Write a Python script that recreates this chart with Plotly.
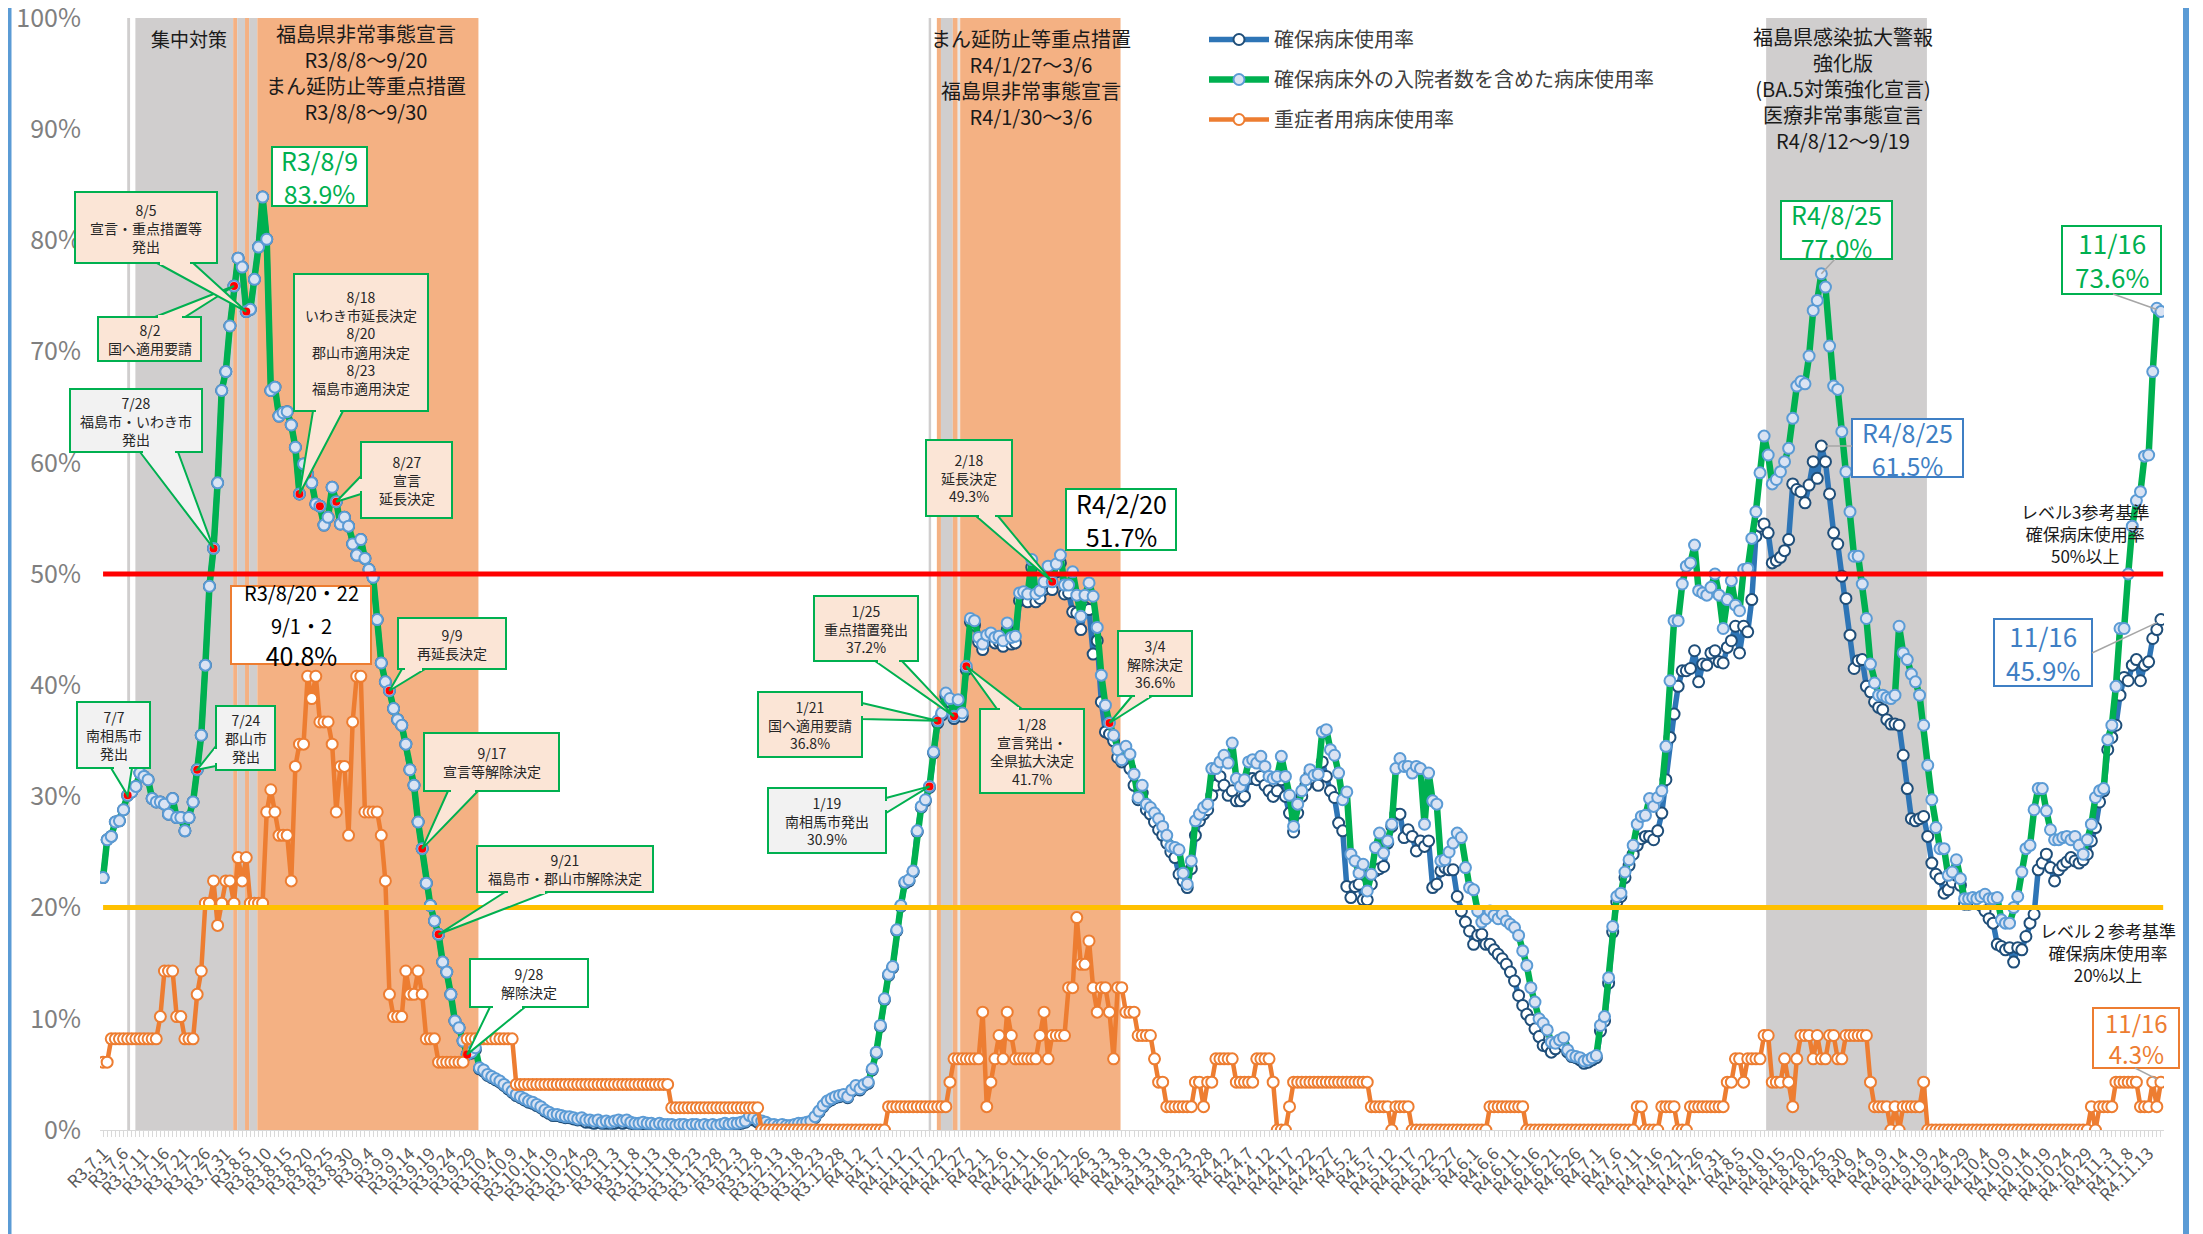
import plotly.graph_objects as go
import pandas as pd

# ---------------- data ----------------
START_DATE = "2021-07-01"

# 確保病床使用率 (%)
secured_bed_rate = [
    22.7, 26.1, 26.4, 27.7, 27.8, 28.8, 30.1, 30.4, 30.9, 32.1,
    31.8, 31.5, 29.8, 29.5, 29.5, 29.3, 28.4, 29.8, 28.1, 28.1,
    26.9, 28.1, 29.5, 32.4, 35.5, 41.8, 48.9, 52.3, 58.2, 66.5,
    68.2, 72.3, 75.9, 78.4, 77.6, 73.6, 73.8, 76.5, 79.4, 83.9,
    80.1, 66.5, 66.8, 64.2, 64.5, 64.6, 63.4, 61.4, 57.2, 59.9,
    59.0, 58.2, 56.3, 56.1, 54.4, 55.1, 57.8, 56.5, 54.5, 55.1,
    54.3, 52.7, 51.7, 53.1, 51.4, 50.4, 49.7, 45.9, 42.0, 40.3,
    39.5, 37.9, 36.9, 36.4, 34.7, 32.4, 31.0, 27.7, 25.3, 22.2,
    20.2, 18.8, 17.6, 15.1, 14.2, 12.2, 9.8, 9.2, 8.0, 6.8,
    6.9, 7.2, 5.5, 5.3, 4.9, 4.7, 4.5, 4.3, 4.0, 3.7,
    3.4, 3.1, 2.9, 2.7, 2.5, 2.4, 2.2, 2.0, 1.7, 1.5,
    1.3, 1.3, 1.2, 1.1, 1.1, 1.0, 0.9, 0.9, 0.7, 0.7,
    0.6, 0.7, 0.6, 0.6, 0.6, 0.6, 0.7, 0.6, 0.7, 0.6,
    0.5, 0.5, 0.5, 0.5, 0.5, 0.4, 0.4, 0.4, 0.4, 0.4,
    0.3, 0.4, 0.4, 0.3, 0.4, 0.4, 0.3, 0.4, 0.3, 0.4,
    0.3, 0.4, 0.4, 0.4, 0.5, 0.5, 0.6, 0.7, 1.0, 0.9,
    0.7, 0.6, 0.5, 0.4, 0.3, 0.3, 0.3, 0.3, 0.3, 0.4,
    0.4, 0.5, 0.6, 0.7, 1.1, 1.6, 2.1, 2.5, 2.7, 2.9,
    3.0, 3.1, 2.9, 3.5, 3.9, 3.6, 4.0, 4.2, 5.4, 6.9,
    9.3, 11.7, 13.9, 14.6, 17.9, 20.1, 22.2, 22.4, 23.2, 26.8,
    29.0, 29.6, 30.8, 33.9, 36.6, 37.3, 39.0, 38.5, 37.0, 38.3,
    37.2, 41.4, 45.7, 45.4, 43.9, 43.2, 44.0, 44.2, 43.8, 43.9,
    43.5, 45.0, 43.7, 43.8, 47.6, 47.7, 47.5, 50.6, 47.5, 47.8,
    48.6, 50.0, 48.6, 50.2, 51.0, 48.2, 48.3, 46.6, 46.5, 45.0,
    47.0, 46.8, 42.8, 44.0, 38.5, 35.8, 35.6, 35.0, 33.5, 33.1,
    33.5, 32.5, 31.0, 29.7, 30.3, 28.8, 28.4, 27.7, 27.0, 26.5,
    25.8, 25.0, 24.5, 23.0, 22.4, 21.8, 23.5, 26.5, 27.8, 28.4,
    28.8, 30.1, 31.0, 31.8, 31.0, 30.1, 30.5, 29.6, 29.6, 30.0,
    31.6, 31.6, 31.5, 31.8, 31.0, 30.5, 30.0, 30.5, 31.5, 30.0,
    28.5, 26.8, 28.5, 30.0, 31.0, 32.0, 31.6, 31.0, 33.1, 31.8,
    30.5, 29.9, 27.6, 26.9, 21.9, 20.9, 21.9, 22.1, 20.7, 20.7,
    22.1, 23.3, 23.5, 23.7, 25.8, 27.3, 28.4, 28.4, 26.3, 27.0,
    26.4, 25.1, 26.0, 25.5, 26.0, 21.8, 22.1, 23.3, 23.6, 23.4,
    23.4, 21.0, 19.7, 18.7, 17.9, 16.7, 17.5, 17.6, 16.7, 16.7,
    16.2, 15.8, 15.4, 14.9, 14.2, 13.4, 12.1, 11.2, 10.4, 9.9,
    9.1, 8.4, 7.6, 7.5, 7.0, 7.3, 7.9, 7.6, 7.0, 6.6,
    6.5, 6.3, 6.0, 6.1, 6.3, 6.5, 8.9, 9.8, 13.2, 17.8,
    20.5, 21.0, 22.7, 23.8, 24.8, 25.6, 26.2, 26.4, 26.4, 26.1,
    26.9, 28.5, 31.5, 35.3, 37.4, 39.9, 41.3, 41.3, 41.5, 43.1,
    40.3, 41.9, 41.8, 42.9, 43.1, 42.1, 42.0, 43.4, 44.0, 45.3,
    42.9, 45.3, 44.8, 47.7, 53.4, 54.3, 54.5, 53.7, 51.0, 51.2,
    51.5, 52.1, 53.1, 58.1, 57.6, 57.4, 56.4, 58.0, 60.1, 58.6,
    61.5, 60.1, 57.2, 53.7, 52.7, 49.8, 47.8, 44.5, 41.5, 42.2,
    42.3, 39.9, 39.4, 38.5, 38.0, 37.8, 36.9, 36.5, 36.5, 36.4,
    33.7, 30.7, 28.0, 27.8, 28.0, 28.2, 26.4, 24.0, 23.0, 22.6,
    21.3, 21.6, 22.3, 22.9, 22.0, 20.3, 20.3, 20.5, 20.5, 20.2,
    19.7, 19.0, 18.6, 16.7, 16.5, 16.2, 16.4, 15.1, 16.4, 16.2,
    17.4, 18.6, 19.4, 23.4, 24.0, 24.8, 23.6, 22.4, 23.4, 23.8,
    24.1, 24.5, 24.2, 24.0, 24.3, 24.8, 26.0, 27.2, 29.5, 30.5,
    34.2, 35.3, 36.4, 39.1, 40.7, 40.4, 41.8, 42.3, 40.4, 41.8,
    42.1, 44.2, 45.0, 45.9,
]

# 確保病床外の入院者数を含めた病床使用率 (%)
incl_other_rate = [
    22.7, 26.1, 26.4, 27.7, 27.8, 28.8, 30.1, 30.4, 30.9, 32.1,
    31.8, 31.5, 29.8, 29.5, 29.5, 29.3, 28.4, 29.8, 28.1, 28.1,
    26.9, 28.1, 29.5, 32.4, 35.5, 41.8, 48.9, 52.3, 58.2, 66.5,
    68.2, 72.3, 75.9, 78.4, 77.6, 73.6, 73.8, 76.5, 79.4, 83.9,
    80.1, 66.5, 66.8, 64.2, 64.5, 64.6, 63.4, 61.4, 57.2, 59.9,
    59.0, 58.2, 56.3, 56.1, 54.4, 55.1, 57.8, 56.5, 54.5, 55.1,
    54.3, 52.7, 51.7, 53.1, 51.4, 50.4, 49.7, 45.9, 42.0, 40.3,
    39.5, 37.9, 36.9, 36.4, 34.7, 32.4, 31.0, 27.7, 25.3, 22.2,
    20.2, 18.8, 17.6, 15.1, 14.2, 12.2, 9.8, 9.2, 8.0, 6.8,
    7.0, 7.4, 5.6, 5.4, 5.0, 4.8, 4.6, 4.4, 4.1, 3.8,
    3.5, 3.2, 3.0, 2.8, 2.6, 2.5, 2.3, 2.1, 1.8, 1.6,
    1.4, 1.4, 1.3, 1.2, 1.2, 1.1, 1.0, 1.1, 0.9, 0.9,
    0.8, 0.9, 0.7, 0.8, 0.7, 0.8, 0.9, 0.8, 0.9, 0.7,
    0.6, 0.6, 0.7, 0.6, 0.6, 0.5, 0.6, 0.5, 0.5, 0.5,
    0.4, 0.5, 0.5, 0.4, 0.5, 0.5, 0.4, 0.5, 0.4, 0.5,
    0.4, 0.5, 0.6, 0.5, 0.6, 0.6, 0.7, 0.8, 1.3, 1.1,
    0.9, 0.8, 0.7, 0.5, 0.5, 0.4, 0.5, 0.4, 0.4, 0.5,
    0.6, 0.6, 0.7, 0.8, 1.2, 1.7, 2.2, 2.6, 2.8, 3.0,
    3.1, 3.2, 3.0, 3.6, 4.0, 3.7, 4.1, 4.3, 5.5, 7.0,
    9.4, 11.8, 14.0, 14.7, 18.0, 20.2, 22.3, 22.5, 23.3, 26.9,
    29.1, 29.7, 30.9, 34.0, 36.8, 37.5, 39.3, 38.8, 37.2, 38.7,
    37.5, 41.7, 46.0, 45.8, 44.3, 43.7, 44.5, 44.7, 44.3, 44.4,
    44.0, 45.6, 44.3, 44.4, 48.3, 48.4, 48.2, 51.3, 48.2, 48.5,
    49.3, 50.7, 49.3, 50.9, 51.7, 49.0, 49.0, 50.2, 48.1, 46.2,
    48.1, 49.2, 48.0, 45.2, 40.9, 38.2, 36.6, 35.5, 34.2, 33.3,
    34.5, 33.8, 32.0, 29.9, 31.0, 29.3, 29.0, 28.5, 28.0, 27.3,
    26.5, 25.5, 25.4, 25.2, 23.1, 22.1, 24.2, 27.8, 28.4, 29.0,
    29.3, 32.5, 32.5, 33.1, 33.7, 33.0, 34.8, 31.6, 30.9, 31.5,
    33.1, 33.3, 33.0, 33.6, 32.7, 31.8, 31.6, 31.8, 33.6, 31.8,
    30.1, 27.3, 29.3, 30.5, 31.5, 32.4, 31.9, 32.0, 35.8, 36.0,
    34.2, 33.7, 32.1, 29.7, 30.4, 24.8, 24.2, 23.1, 23.9, 21.5,
    23.0, 25.4, 26.7, 24.9, 26.0, 27.5, 32.5, 33.4, 32.7, 32.7,
    32.1, 32.7, 32.5, 27.5, 32.1, 29.6, 29.3, 24.2, 24.3, 25.0,
    25.8, 26.7, 26.3, 23.6, 21.8, 21.6, 19.7, 18.7, 19.0, 19.7,
    19.3, 19.0, 19.4, 18.8, 18.5, 18.2, 17.5, 16.1, 14.8, 12.8,
    11.5, 10.0, 9.6, 9.0, 7.9, 7.8, 8.1, 8.3, 7.2, 6.7,
    6.6, 6.5, 6.2, 6.3, 6.5, 6.7, 9.4, 10.2, 13.7, 18.3,
    21.0, 21.3, 23.2, 24.3, 25.6, 27.5, 28.2, 28.3, 29.8, 29.1,
    29.9, 30.5, 34.5, 40.4, 45.8, 45.8, 49.1, 50.7, 51.0, 52.6,
    48.5, 48.3, 48.1, 48.8, 50.0, 48.1, 45.1, 47.7, 49.4, 47.2,
    46.7, 50.4, 50.5, 53.2, 55.6, 59.1, 62.4, 60.7, 58.1, 58.5,
    59.2, 60.1, 61.3, 64.0, 66.9, 67.3, 67.1, 69.6, 73.7, 74.6,
    77.0, 75.8, 70.5, 66.9, 66.6, 62.8, 59.2, 55.6, 51.6, 51.6,
    49.1, 46.0, 41.9, 40.2, 39.1, 39.1, 38.9, 38.8, 39.1, 45.3,
    42.9, 42.3, 41.0, 40.3, 39.1, 36.4, 32.8, 29.7, 27.2, 25.3,
    25.3, 22.9, 23.2, 24.3, 22.6, 20.8, 20.8, 20.9, 20.8, 21.0,
    21.2, 20.8, 20.8, 20.9, 18.9, 18.6, 18.6, 20.0, 21.0, 23.2,
    25.3, 25.6, 28.8, 30.7, 30.7, 28.7, 27.0, 26.1, 26.1, 26.3,
    26.4, 26.1, 26.4, 25.6, 24.8, 26.1, 27.5, 29.9, 30.5, 30.7,
    35.1, 36.4, 39.9, 45.1, 45.1, 50.0, 54.3, 56.6, 57.4, 60.6,
    60.7, 68.2, 73.9, 73.6,
]

# 重症者用病床使用率 (%)
severe_bed_rate = [
    6.1, 6.1, 8.2, 8.2, 8.2, 8.2, 8.2, 8.2, 8.2, 8.2,
    8.2, 8.2, 8.2, 8.2, 10.2, 14.3, 14.3, 14.3, 10.2, 10.2,
    8.2, 8.2, 8.2, 12.2, 14.3, 20.4, 20.4, 22.4, 18.4, 20.4,
    22.4, 22.4, 20.4, 24.5, 22.4, 24.5, 20.4, 20.4, 20.4, 20.4,
    28.6, 30.6, 28.6, 26.5, 26.5, 26.5, 22.4, 32.7, 34.7, 34.7,
    40.8, 38.8, 40.8, 36.7, 36.7, 36.7, 34.7, 28.6, 32.7, 32.7,
    26.5, 36.7, 40.8, 40.8, 28.6, 28.6, 28.6, 28.6, 26.5, 22.4,
    12.2, 10.2, 10.2, 10.2, 14.3, 12.2, 12.2, 14.3, 12.2, 8.2,
    8.2, 8.2, 6.1, 6.1, 6.1, 6.1, 6.1, 6.1, 6.1, 8.2,
    8.2, 8.2, 8.2, 8.2, 8.2, 8.2, 8.2, 8.2, 8.2, 8.2,
    8.2, 4.1, 4.1, 4.1, 4.1, 4.1, 4.1, 4.1, 4.1, 4.1,
    4.1, 4.1, 4.1, 4.1, 4.1, 4.1, 4.1, 4.1, 4.1, 4.1,
    4.1, 4.1, 4.1, 4.1, 4.1, 4.1, 4.1, 4.1, 4.1, 4.1,
    4.1, 4.1, 4.1, 4.1, 4.1, 4.1, 4.1, 4.1, 4.1, 2.0,
    2.0, 2.0, 2.0, 2.0, 2.0, 2.0, 2.0, 2.0, 2.0, 2.0,
    2.0, 2.0, 2.0, 2.0, 2.0, 2.0, 2.0, 2.0, 2.0, 2.0,
    2.0, 0.0, 0.0, 0.0, 0.0, 0.0, 0.0, 0.0, 0.0, 0.0,
    0.0, 0.0, 0.0, 0.0, 0.0, 0.0, 0.0, 0.0, 0.0, 0.0,
    0.0, 0.0, 0.0, 0.0, 0.0, 0.0, 0.0, 0.0, 0.0, 0.0,
    0.0, 0.0, 2.1, 2.1, 2.1, 2.1, 2.1, 2.1, 2.1, 2.1,
    2.1, 2.1, 2.1, 2.1, 2.1, 2.1, 2.1, 4.3, 6.4, 6.4,
    6.4, 6.4, 6.4, 6.4, 6.4, 10.6, 2.1, 4.3, 6.4, 8.5,
    6.4, 10.6, 8.5, 6.4, 6.4, 6.4, 6.4, 6.4, 6.4, 8.5,
    10.6, 6.4, 8.5, 8.5, 8.5, 8.5, 12.8, 12.8, 19.1, 14.9,
    14.9, 17.0, 12.8, 10.6, 12.8, 12.8, 10.6, 6.4, 12.8, 12.8,
    10.6, 10.6, 10.6, 8.5, 8.5, 8.5, 8.5, 6.4, 4.3, 4.3,
    2.1, 2.1, 2.1, 2.1, 2.1, 2.1, 2.1, 4.3, 4.3, 2.1,
    4.3, 4.3, 6.4, 6.4, 6.4, 6.4, 6.4, 4.3, 4.3, 4.3,
    4.3, 4.3, 6.4, 6.4, 6.4, 6.4, 4.3, 0.0, 0.0, 0.0,
    2.1, 4.3, 4.3, 4.3, 4.3, 4.3, 4.3, 4.3, 4.3, 4.3,
    4.3, 4.3, 4.3, 4.3, 4.3, 4.3, 4.3, 4.3, 4.3, 4.3,
    2.1, 2.1, 2.1, 2.1, 2.1, 0.0, 2.1, 2.1, 2.1, 2.1,
    0.0, 0.0, 0.0, 0.0, 0.0, 0.0, 0.0, 0.0, 0.0, 0.0,
    0.0, 0.0, 0.0, 0.0, 0.0, 0.0, 0.0, 0.0, 0.0, 2.1,
    2.1, 2.1, 2.1, 2.1, 2.1, 2.1, 2.1, 2.1, 0.0, 0.0,
    0.0, 0.0, 0.0, 0.0, 0.0, 0.0, 0.0, 0.0, 0.0, 0.0,
    0.0, 0.0, 0.0, 0.0, 0.0, 0.0, 0.0, 0.0, 0.0, 0.0,
    0.0, 0.0, 0.0, 0.0, 0.0, 2.1, 2.1, 0.0, 0.0, 0.0,
    0.0, 2.1, 2.1, 2.1, 2.1, 0.0, 0.0, 0.0, 2.1, 2.1,
    2.1, 2.1, 2.1, 2.1, 2.1, 2.1, 2.1, 4.3, 4.3, 6.4,
    6.4, 4.3, 6.4, 6.4, 6.4, 6.4, 8.5, 8.5, 4.3, 4.3,
    4.3, 6.4, 4.3, 2.1, 6.4, 8.5, 8.5, 8.5, 6.4, 8.5,
    6.4, 6.4, 8.5, 8.5, 6.4, 6.4, 8.5, 8.5, 8.5, 8.5,
    8.5, 8.5, 4.3, 2.1, 2.1, 2.1, 2.1, 0.0, 2.1, 0.0,
    2.1, 2.1, 2.1, 2.1, 2.1, 4.3, 0.0, 0.0, 0.0, 0.0,
    0.0, 0.0, 0.0, 0.0, 0.0, 0.0, 0.0, 0.0, 0.0, 0.0,
    0.0, 0.0, 0.0, 0.0, 0.0, 0.0, 0.0, 0.0, 0.0, 0.0,
    0.0, 0.0, 0.0, 0.0, 0.0, 0.0, 0.0, 0.0, 0.0, 0.0,
    0.0, 0.0, 0.0, 0.0, 0.0, 0.0, 2.1, 0.0, 2.1, 2.1,
    2.1, 2.1, 4.3, 4.3, 4.3, 4.3, 4.3, 4.3, 2.1, 2.1,
    2.1, 4.3, 2.1, 4.3,
]

# dates of policy events (red dots on the green series)
event_dates = [
    "2021-07-07", "2021-07-24", "2021-07-28", "2021-08-02", "2021-08-05",
    "2021-08-18", "2021-08-20", "2021-08-23", "2021-08-27", "2021-09-09",
    "2021-09-17", "2021-09-21", "2021-09-28", "2022-01-19", "2022-01-21",
    "2022-01-25", "2022-01-28", "2022-02-18", "2022-03-04",
]

y_tick_values = [0, 10, 20, 30, 40, 50, 60, 70, 80, 90, 100]
level3_line = 50
level2_line = 20

assert len(secured_bed_rate) == len(incl_other_rate) == len(severe_bed_rate)

dates = pd.date_range(START_DATE, periods=len(incl_other_rate), freq="D")
days = list(range(len(dates)))
tick_days = days[::5]
tick_labels = [f"R{d.year - 2018}.{d.month}.{d.day}" for d in dates[::5]]


def day_of(s):
    return int((pd.Timestamp(s) - dates[0]).days)


# ---------------- geometry (page pixel coordinates) ----------------
W, H = 2203, 1234
PAGE_OFF = 8                      # default body margin of the html page
PL, PT, PR, PB = 100, 18, 2164, 1130   # plot area in page pixels
PW, PH = PR - PL, PB - PT
FIG_W, FIG_H = W - PAGE_OFF, H - PAGE_OFF
XMIN, XMAX = -0.75, days[-1] + 0.75


def px_x(day):
    return PL + (day - XMIN) / (XMAX - XMIN) * PW


def px_y(v):
    return PT + (1 - v / 100.0) * PH


def pap_x(px):
    return (px - PL) / PW


def pap_y(py):
    return (PB - py) / PH


FONT = "Noto Sans CJK JP, Noto Sans, sans-serif"
GREEN = "#00B050"
BLUE = "#2E75B6"
ORANGE = "#ED7D31"
PEACH = "#FBE5D6"
GRAYF = "#F2F2F2"
WHITE = "#FFFFFF"
BG_GRAY = "#D0CECE"
BG_ORANGE = "#F4B183"
LABEL_BLUE = "#3F7FC4"

fig = go.Figure()

# ---------------- traces ----------------
fig.add_trace(go.Scatter(
    x=days, y=secured_bed_rate, mode="lines+markers", name="確保病床使用率",
    legendgroup="a",
    line=dict(color=BLUE, width=5.5),
    marker=dict(size=11, color=WHITE, line=dict(color="#1F4E79", width=2)),
))
fig.add_trace(go.Scatter(
    x=days, y=incl_other_rate, mode="lines+markers",
    name="確保病床外の入院者数を含めた病床使用率", legendgroup="b",
    line=dict(color=GREEN, width=6.5),
    marker=dict(size=11, color="#DAE3F3", line=dict(color="#5B9BD5", width=2)),
))
fig.add_trace(go.Scatter(
    x=days, y=severe_bed_rate, mode="lines+markers", name="重症者用病床使用率",
    legendgroup="c",
    line=dict(color=ORANGE, width=4.5),
    marker=dict(size=11, color=WHITE, line=dict(color=ORANGE, width=2)),
))
ev_days = [day_of(s) for s in event_dates]
fig.add_trace(go.Scatter(
    x=ev_days, y=[incl_other_rate[d] for d in ev_days], mode="markers",
    showlegend=False, marker=dict(size=8, color="#FF0000"),
))

shapes = []
annotations = []

# ---------------- background periods ----------------
bg_spans = [
    (5.9, 6.6, BG_GRAY), (7.9, 31.8, BG_GRAY), (31.8, 32.8, BG_ORANGE),
    (32.8, 34.7, BG_GRAY), (34.7, 35.7, BG_ORANGE), (35.7, 37.7, BG_GRAY),
    (37.7, 91.75, BG_ORANGE),
    (201.8, 202.4, BG_GRAY), (203.8, 204.8, BG_ORANGE), (204.8, 207.7, BG_GRAY),
    (207.7, 208.9, BG_ORANGE), (208.9, 209.5, "#E7E6E6"), (209.5, 248.7, BG_ORANGE),
    (406.5, 445.8, BG_GRAY),
]
for x0, x1, c in bg_spans:
    shapes.append(dict(type="rect", xref="x", yref="paper", x0=x0, x1=x1, y0=0, y1=1,
                       fillcolor=c, line=dict(width=0), layer="below"))

# reference lines
shapes.append(dict(type="line", xref="x", yref="y", x0=0, x1=XMAX - 0.2,
                   y0=level3_line, y1=level3_line, line=dict(color="#FF0000", width=5),
                   layer="above"))
shapes.append(dict(type="line", xref="x", yref="y", x0=0, x1=XMAX - 0.2,
                   y0=level2_line, y1=level2_line, line=dict(color="#FFC000", width=5),
                   layer="above"))

# outer frame (left/right blue bars)
for bx in (8.5, 2186):
    shapes.append(dict(type="line", xref="paper", yref="paper",
                       x0=pap_x(bx), x1=pap_x(bx), y0=pap_y(H), y1=pap_y(PAGE_OFF),
                       line=dict(color="#5B9BD5", width=6), layer="above"))

# ---------------- callouts ----------------
callouts = [
    ("7/7<br>南相馬市<br>発出", (77, 702, 150, 768), GRAYF, ((111, 768), (132, 768)), "2021-07-07"),
    ("7/24<br>郡山市<br>発出", (216, 706, 275, 770), GRAYF, ((216, 746), (216, 766)), "2021-07-24"),
    ("7/28<br>福島市・いわき市<br>発出", (70, 389, 202, 452), GRAYF, ((140, 452), (178, 452)), "2021-07-28"),
    ("8/2<br>国へ適用要請", (98, 317, 201, 361), PEACH, ((155, 317), (185, 317)), "2021-08-02"),
    ("8/5<br>宣言・重点措置等<br>発出", (75, 192, 217, 263), PEACH, ((157, 263), (193, 263)), "2021-08-05"),
    ("8/18<br>いわき市延長決定<br>8/20<br>郡山市適用決定<br>8/23<br>福島市適用決定",
     (294, 274, 428, 411), PEACH, ((313, 411), (343, 411)), "2021-08-18"),
    ("8/27<br>宣言<br>延長決定", (361, 442, 452, 518), PEACH, ((361, 476), (361, 494)), "2021-08-27"),
    ("9/9<br>再延長決定", (398, 618, 506, 669), PEACH, ((402, 669), (425, 669)), "2021-09-09"),
    ("9/17<br>宣言等解除決定", (424, 733, 559, 791), PEACH, ((448, 791), (478, 791)), "2021-09-17"),
    ("9/21<br>福島市・郡山市解除決定", (477, 846, 653, 892), PEACH, ((505, 892), (548, 892)), "2021-09-21"),
    ("9/28<br>解除決定", (470, 959, 588, 1007), WHITE, ((490, 1007), (525, 1007)), "2021-09-28"),
    ("1/19<br>南相馬市発出<br>30.9%", (768, 788, 886, 853), GRAYF, ((886, 798), (886, 813)), "2022-01-19"),
    ("1/21<br>国へ適用要請<br>36.8%", (758, 692, 862, 757), PEACH, ((862, 703), (862, 719)), "2022-01-21"),
    ("1/25<br>重点措置発出<br>37.2%", (814, 596, 918, 661), PEACH, ((875, 661), (902, 661)), "2022-01-25"),
    ("1/28<br>宣言発出・<br>全県拡大決定<br>41.7%", (980, 709, 1084, 793), PEACH, ((997, 709), (1022, 709)), "2022-01-28"),
    ("2/18<br>延長決定<br>49.3%", (926, 440, 1012, 516), PEACH, ((976, 516), (998, 516)), "2022-02-18"),
    ("3/4<br>解除決定<br>36.6%", (1118, 631, 1192, 696), PEACH, ((1132, 696), (1152, 696)), "2022-03-04"),
]

for text, (bx0, by0, bx1, by1), fill, (b1, b2), dstr in callouts:
    d = day_of(dstr)
    tip = (px_x(d), px_y(incl_other_rate[d]))
    shapes.append(dict(type="rect", xref="paper", yref="paper",
                       x0=pap_x(bx0), x1=pap_x(bx1), y0=pap_y(by1), y1=pap_y(by0),
                       fillcolor=fill, line=dict(color=GREEN, width=2), layer="above"))
    path = (f"M {pap_x(b1[0])},{pap_y(b1[1])} L {pap_x(tip[0])},{pap_y(tip[1])} "
            f"L {pap_x(b2[0])},{pap_y(b2[1])} Z")
    shapes.append(dict(type="path", xref="paper", yref="paper", path=path,
                       fillcolor=fill, line=dict(color=GREEN, width=2), layer="above"))
    # hide the box border under the wedge base
    if b1[1] == b2[1]:
        p1, p2 = (b1[0] + 3, b1[1]), (b2[0] - 3, b2[1])
    else:
        p1, p2 = (b1[0], b1[1] + 3), (b2[0], b2[1] - 3)
    shapes.append(dict(type="line", xref="paper", yref="paper",
                       x0=pap_x(p1[0]), y0=pap_y(p1[1]), x1=pap_x(p2[0]), y1=pap_y(p2[1]),
                       line=dict(color=fill, width=4), layer="above"))
    annotations.append(dict(text=text, xref="paper", yref="paper",
                            x=pap_x((bx0 + bx1) / 2), y=pap_y((by0 + by1) / 2),
                            xanchor="center", yanchor="middle", showarrow=False,
                            font=dict(family=FONT, size=14, color="#262626")))

# value label boxes
value_boxes = [
    ("R3/8/9<br>83.9%", (272, 147, 367, 206), GREEN, GREEN, 25),
    ("<span style='font-size:20px'>R3/8/20・22</span><br><span style='font-size:20px'>9/1・2</span><br>40.8%",
     (231, 586, 371, 664), ORANGE, "#000000", 25),
    ("R4/2/20<br>51.7%", (1066, 489, 1176, 550), GREEN, "#000000", 25),
    ("R4/8/25<br>77.0%", (1781, 201, 1892, 259), GREEN, GREEN, 25),
    ("R4/8/25<br>61.5%", (1852, 419, 1963, 477), LABEL_BLUE, LABEL_BLUE, 25),
    ("11/16<br>73.6%", (2062, 226, 2161, 294), GREEN, GREEN, 26),
    ("11/16<br>45.9%", (1994, 619, 2092, 686), LABEL_BLUE, LABEL_BLUE, 26),
    ("11/16<br>4.3%", (2093, 1008, 2179, 1068), ORANGE, ORANGE, 24),
]
for text, (bx0, by0, bx1, by1), bc, tc, fs in value_boxes:
    shapes.append(dict(type="rect", xref="paper", yref="paper",
                       x0=pap_x(bx0), x1=pap_x(bx1), y0=pap_y(by1), y1=pap_y(by0),
                       fillcolor=WHITE, line=dict(color=bc, width=2), layer="above"))
    annotations.append(dict(text=text, xref="paper", yref="paper",
                            x=pap_x((bx0 + bx1) / 2), y=pap_y((by0 + by1) / 2),
                            xanchor="center", yanchor="middle", showarrow=False,
                            font=dict(family=FONT, size=fs, color=tc)))

# leader lines from value boxes to points
last = days[-1]
peak22 = day_of("2022-08-25")
leaders = [
    ((1835, 259), (px_x(peak22), px_y(incl_other_rate[peak22]))),
    ((1852, 446), (px_x(peak22) + 5, px_y(secured_bed_rate[peak22]))),
    ((2113, 294), (px_x(last) - 4, px_y(incl_other_rate[last]) - 2)),
    ((2092, 653), (px_x(last) - 4, px_y(secured_bed_rate[last]) + 3)),
    ((2135, 1068), (px_x(last) - 4, px_y(severe_bed_rate[last]) - 3)),
]
for (a, b) in leaders:
    shapes.append(dict(type="line", xref="paper", yref="paper",
                       x0=pap_x(a[0]), y0=pap_y(a[1]), x1=pap_x(b[0]), y1=pap_y(b[1]),
                       line=dict(color="#A6A6A6", width=1.5), layer="above"))

# header / plain texts (centres in page pixels)
texts = [
    ("集中対策", 189, 39, 19),
    ("福島県非常事態宣言<br>R3/8/8～9/20<br>まん延防止等重点措置<br>R3/8/8～9/30", 366, 72, 20),
    ("まん延防止等重点措置<br>R4/1/27～3/6<br>福島県非常事態宣言<br>R4/1/30～3/6", 1031, 77, 20),
    ("福島県感染拡大警報<br>強化版<br>(BA.5対策強化宣言)<br>医療非常事態宣言<br>R4/8/12～9/19", 1843, 88, 20),
    ("レベル3参考基準<br>確保病床使用率<br>50%以上", 2085, 533, 17),
    ("レベル２参考基準<br>確保病床使用率<br>20%以上", 2108, 952, 17),
]
for t, cx, cy, fs in texts:
    annotations.append(dict(text=t, xref="paper", yref="paper", x=pap_x(cx), y=pap_y(cy),
                            xanchor="center", yanchor="middle", showarrow=False,
                            font=dict(family=FONT, size=fs, color="#1A1A1A")))

fig.update_layout(
    width=FIG_W, height=FIG_H,
    margin=dict(l=PL - PAGE_OFF, r=FIG_W - (PR - PAGE_OFF), t=PT - PAGE_OFF,
                b=FIG_H - (PB - PAGE_OFF)),
    paper_bgcolor="white", plot_bgcolor="white",
    font=dict(family=FONT, color="#404040"),
    shapes=shapes, annotations=annotations,
    showlegend=True,
    legend=dict(x=pap_x(1204), y=pap_y(20), xanchor="left", yanchor="top",
                bgcolor="rgba(0,0,0,0)", font=dict(family=FONT, size=20, color="#404040"),
                tracegroupgap=11, itemwidth=60),
    xaxis=dict(range=[XMIN, XMAX], tickmode="array", tickvals=tick_days, ticktext=tick_labels,
               tickangle=-45, tickfont=dict(family=FONT, size=17, color="#595959"),
               showgrid=False, zeroline=False, showline=True, linecolor="#D9D9D9",
               ticks="outside", ticklen=6, tickcolor="#D9D9D9",
               minor=dict(tickmode="linear", tick0=0, dtick=1, ticks="outside",
                          ticklen=6, tickcolor="#D9D9D9"),
               automargin=False, ticklabeloverflow="allow"),
    yaxis=dict(range=[0, 100], tickmode="array", tickvals=y_tick_values,
               ticktext=[f"{v}%" for v in y_tick_values],
               tickfont=dict(family=FONT, size=25, color="#7F7F7F"),
               showgrid=False, zeroline=False, showline=False, ticks="",
               ticklabelstandoff=18, automargin=False, ticklabeloverflow="allow"),
)

fig.write_html("out.html")
